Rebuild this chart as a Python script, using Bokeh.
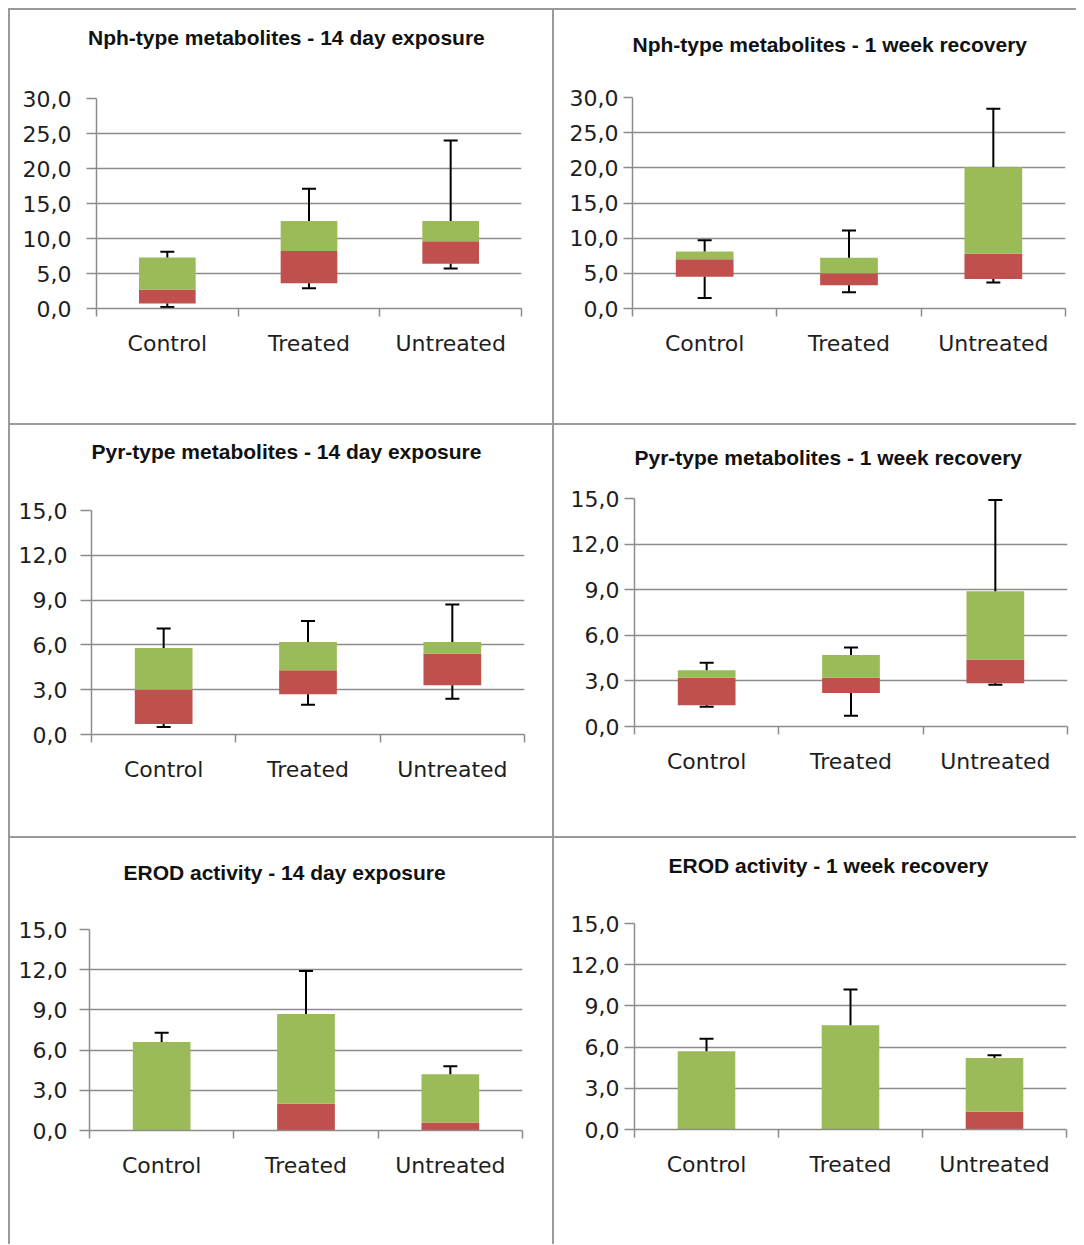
from bokeh.plotting import figure
from bokeh.layouts import column, row
from bokeh.models import Range1d, FixedTicker, CustomJSTickFormatter, Title, Spacer
from bokeh.embed import file_html
from bokeh.resources import INLINE

# ---------------- data ----------------
categories = ["Control", "Treated", "Untreated"]

nph14_title = "Nph-type metabolites - 14 day exposure"
nph14_min = [0.2, 2.9, 5.7]
nph14_q1 = [0.7, 3.6, 6.4]
nph14_med = [2.7, 8.2, 9.6]
nph14_q3 = [7.3, 12.5, 12.5]
nph14_max = [8.1, 17.1, 24.0]

nph1w_title = "Nph-type metabolites - 1 week recovery"
nph1w_min = [1.5, 2.3, 3.7]
nph1w_q1 = [4.5, 3.3, 4.2]
nph1w_med = [7.0, 5.0, 7.8]
nph1w_q3 = [8.1, 7.2, 20.1]
nph1w_max = [9.7, 11.1, 28.4]

pyr14_title = "Pyr-type metabolites - 14 day exposure"
pyr14_min = [0.5, 2.0, 2.4]
pyr14_q1 = [0.7, 2.7, 3.3]
pyr14_med = [3.0, 4.3, 5.4]
pyr14_q3 = [5.8, 6.2, 6.2]
pyr14_max = [7.1, 7.6, 8.7]

pyr1w_title = "Pyr-type metabolites - 1 week recovery"
pyr1w_min = [1.3, 0.7, 2.75]
pyr1w_q1 = [1.4, 2.2, 2.85]
pyr1w_med = [3.2, 3.2, 4.4]
pyr1w_q3 = [3.7, 4.7, 8.9]
pyr1w_max = [4.2, 5.2, 14.9]

erod14_title = "EROD activity - 14 day exposure"
erod14_min = [0.0, 0.0, 0.0]
erod14_q1 = [0.0, 0.0, 0.0]
erod14_med = [0.0, 2.0, 0.6]
erod14_q3 = [6.6, 8.7, 4.2]
erod14_max = [7.3, 11.9, 4.8]

erod1w_title = "EROD activity - 1 week recovery"
erod1w_min = [0.0, 0.0, 0.0]
erod1w_q1 = [0.0, 0.0, 0.0]
erod1w_med = [0.0, 0.0, 1.3]
erod1w_q3 = [5.7, 7.6, 5.2]
erod1w_max = [6.6, 10.2, 5.4]

nph_ticks = [0, 5, 10, 15, 20, 25, 30]
other_ticks = [0, 3, 6, 9, 12, 15]

# ---------------- styling ----------------
GREEN = "#9BBB59"
RED = "#C0504D"
GRID = "#8c8c8c"
BORDER = "#9a9a9a"
TXT = "#1e1e1e"


def make_panel(title, mins, q1, med, q3, maxs, yticks, g):
    n = len(categories)
    xs = [i + 0.5 for i in range(n)]
    p = figure(width=g["w"], height=g["h"],
               min_border_left=g["l"], min_border_right=g["w"] - g["l"] - g["fw"],
               min_border_top=g["t"], min_border_bottom=g["h"] - g["t"] - g["fh"],
               x_range=Range1d(0, n), y_range=Range1d(yticks[0], yticks[-1]),
               output_backend="svg", toolbar_location=None, tools="",
               border_fill_color=None, background_fill_color="white",
               outline_line_color=None, title_location=None)
    p.styles = {"box-shadow": "inset 2px 2px 0 0 " + BORDER}

    # spacer title (nearest the frame) + real title above it
    p.add_layout(Title(text=" ", text_font_size="1px", standoff=g["gap"]), "above")
    p.add_layout(Title(text=title, align="left", offset=g["to"], standoff=10,
                       text_font="Liberation Sans", text_font_style="bold",
                       text_font_size="21px", text_color="#111111"), "above")

    # y axis
    ya = p.yaxis[0]
    ya.ticker = FixedTicker(ticks=yticks, minor_ticks=[])
    ya.formatter = CustomJSTickFormatter(code="return tick.toFixed(1).replace('.', ',');")
    ya.axis_line_color = GRID
    ya.axis_line_width = 1.5
    ya.major_tick_line_color = GRID
    ya.major_tick_line_width = 1.5
    ya.major_tick_out = g["yto"]
    ya.major_tick_in = 0
    ya.minor_tick_line_color = None
    ya.major_label_standoff = g["yls"]
    ya.major_label_text_font = "DejaVu Sans"
    ya.major_label_text_font_size = "22px"
    ya.major_label_text_color = TXT

    # x axis: labels at category centres, tick marks between categories
    xa = p.xaxis[0]
    xa.ticker = FixedTicker(ticks=xs, minor_ticks=list(range(n + 1)))
    xa.major_label_overrides = {x: c for x, c in zip(xs, categories)}
    xa.axis_line_color = GRID
    xa.axis_line_width = 1.5
    xa.major_tick_line_color = None
    xa.major_tick_out = 0
    xa.major_tick_in = 0
    xa.minor_tick_line_color = GRID
    xa.minor_tick_line_width = 1.5
    xa.minor_tick_out = 8
    xa.minor_tick_in = 0
    xa.major_label_standoff = g["xls"]
    xa.major_label_text_font = "DejaVu Sans"
    xa.major_label_text_font_size = "22px"
    xa.major_label_text_color = TXT

    p.xgrid.visible = False
    p.ygrid.grid_line_color = GRID
    p.ygrid.grid_line_width = 1.5

    # boxes: Q1 -> median (red), median -> Q3 (green)
    p.vbar(x=xs, width=0.40, bottom=q1, top=med, fill_color=RED, line_color=None)
    p.vbar(x=xs, width=0.40, bottom=med, top=q3, fill_color=GREEN, line_color=None)

    # whiskers
    p.segment(x0=xs, y0=q3, x1=xs, y1=maxs, line_color="black", line_width=2)
    p.scatter(x=xs, y=maxs, marker="dash", size=14, line_color="black", line_width=2)
    lx = [x for x, a, b in zip(xs, mins, q1) if a < b]
    lmin = [a for a, b in zip(mins, q1) if a < b]
    lq1 = [b for a, b in zip(mins, q1) if a < b]
    if lx:
        p.segment(x0=lx, y0=lq1, x1=lx, y1=lmin, line_color="black", line_width=2)
        p.scatter(x=lx, y=lmin, marker="dash", size=14, line_color="black", line_width=2)
    return column(p)


G1 = dict(w=544, h=415, l=88, fw=425, t=90, fh=210, gap=42, to=-8.5, yto=10, yls=15, xls=14)
G2 = dict(w=524, h=415, l=80, fw=433, t=89, fh=211, gap=34, to=0, yto=9, yls=5, xls=14)
G3 = dict(w=544, h=413, l=83, fw=433, t=87, fh=224, gap=40, to=0, yto=11, yls=13, xls=14)
G4 = dict(w=524, h=413, l=82, fw=433, t=75, fh=228, gap=22, to=0, yto=10, yls=5, xls=14)
G5 = dict(w=544, h=408, l=81, fw=433, t=93, fh=201, gap=38, to=34, yto=10, yls=12, xls=14)
G6 = dict(w=524, h=408, l=82, fw=432, t=87, fh=206, gap=39, to=34, yto=10, yls=5, xls=14)

p1 = make_panel(nph14_title, nph14_min, nph14_q1, nph14_med, nph14_q3, nph14_max, nph_ticks, G1)
p2 = make_panel(nph1w_title, nph1w_min, nph1w_q1, nph1w_med, nph1w_q3, nph1w_max, nph_ticks, G2)
p3 = make_panel(pyr14_title, pyr14_min, pyr14_q1, pyr14_med, pyr14_q3, pyr14_max, other_ticks, G3)
p4 = make_panel(pyr1w_title, pyr1w_min, pyr1w_q1, pyr1w_med, pyr1w_q3, pyr1w_max, other_ticks, G4)
p5 = make_panel(erod14_title, erod14_min, erod14_q1, erod14_med, erod14_q3, erod14_max, other_ticks, G5)
p6 = make_panel(erod1w_title, erod1w_min, erod1w_q1, erod1w_med, erod1w_q3, erod1w_max, other_ticks, G6)

grid = column(row(p1, p2), row(p3, p4), row(p5, p6))
layout = column(Spacer(height=8), row(Spacer(width=8), grid))

open("out.html", "w").write(file_html(layout, INLINE))
